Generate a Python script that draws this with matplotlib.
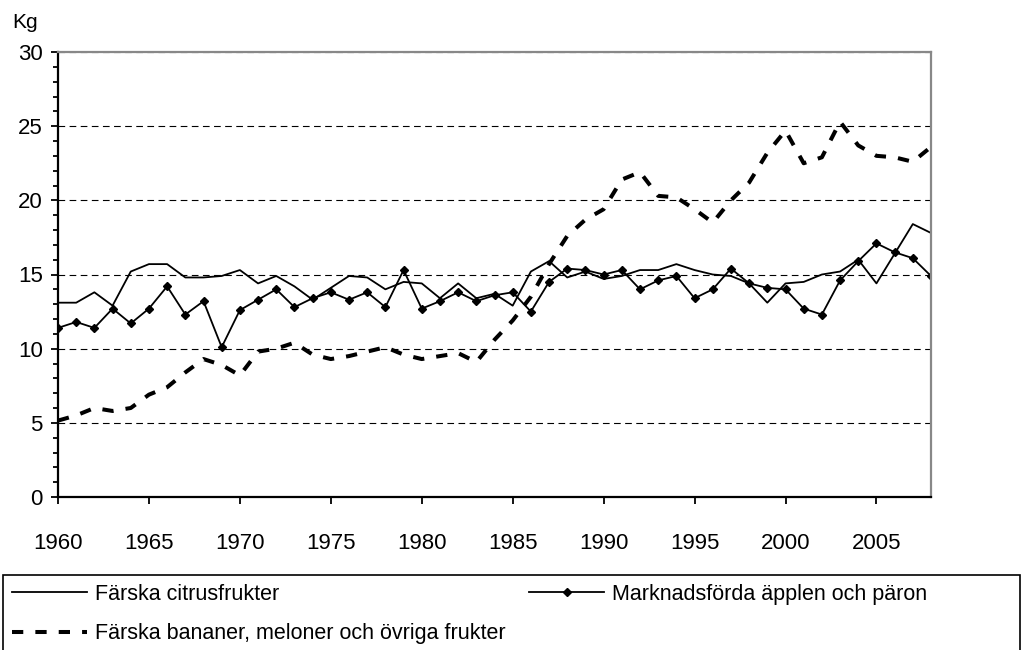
import numpy as np
import matplotlib.pyplot as plt
from matplotlib.ticker import MultipleLocator
from matplotlib.patches import Rectangle

plt.rcParams['font.family'] = ['Liberation Sans', 'DejaVu Sans']

years = list(range(1960, 2009))

citrus = [13.1, 13.1, 13.8, 12.9, 15.2, 15.7, 15.7, 14.8, 14.8, 14.9,
          15.3, 14.4, 14.9, 14.2, 13.3, 14.1, 14.9, 14.8, 14.0, 14.5,
          14.4, 13.4, 14.4, 13.4, 13.7, 12.9, 15.2, 15.9, 14.8, 15.2,
          14.7, 14.9, 15.3, 15.3, 15.7, 15.3, 15.0, 14.9, 14.4, 13.1,
          14.4, 14.5, 15.0, 15.2, 16.0, 14.4, 16.4, 18.4, 17.8]

apples = [11.4, 11.8, 11.4, 12.7, 11.7, 12.7, 14.2, 12.3, 13.2, 10.1,
          12.6, 13.3, 14.0, 12.8, 13.4, 13.8, 13.3, 13.8, 12.8, 15.3,
          12.7, 13.2, 13.8, 13.2, 13.6, 13.8, 12.5, 14.5, 15.4, 15.3,
          15.0, 15.3, 14.0, 14.6, 14.9, 13.4, 14.0, 15.4, 14.4, 14.1,
          14.0, 12.7, 12.3, 14.6, 15.9, 17.1, 16.5, 16.1, 14.9]

bananas = [5.15, 5.5, 6.0, 5.8, 6.0, 6.9, 7.4, 8.4, 9.3, 8.9,
           8.2, 9.8, 10.0, 10.4, 9.6, 9.3, 9.5, 9.8, 10.1, 9.6,
           9.3, 9.5, 9.7, 9.1, 10.6, 11.9, 13.5, 15.7, 17.6, 18.7,
           19.4, 21.4, 21.9, 20.3, 20.2, 19.4, 18.5, 20.0, 21.2, 23.2,
           24.7, 22.5, 22.9, 25.3, 23.7, 23.0, 22.9, 22.6, 23.6]

labels = ['Färska citrusfrukter',
          'Marknadsförda äpplen och päron',
          'Färska bananer, meloner och övriga frukter']

W, H = 1024, 650
fig = plt.figure(figsize=(W / 100, H / 100), dpi=100)
ax = fig.add_axes([58 / W, 1 - 497 / H, 873 / W, 445 / H])

l1, = ax.plot(years, citrus, color='black', lw=1.3)
l2, = ax.plot(years, apples, color='black', lw=1.3, marker='D', markersize=4.5)
l3, = ax.plot(years, bananas, color='black', lw=2.9, dashes=(2.8, 3.0))

ax.set_xlim(1960, 2008)
ax.set_ylim(0, 30)
ax.xaxis.set_major_locator(MultipleLocator(5))
ax.yaxis.set_major_locator(MultipleLocator(5))
ax.yaxis.set_minor_locator(MultipleLocator(1))
ax.tick_params(axis='both', direction='out', labelsize=16, width=1.3, length=5)
ax.tick_params(axis='x', pad=21)
ax.tick_params(axis='y', pad=6)
ax.tick_params(axis='y', which='minor', direction='out', width=1.3, length=3.5)
ax.tick_params(axis='x', which='minor', bottom=False)

ax.grid(axis='y', which='major', color='black', lw=0.8, linestyle=(0, (6, 4)))
ax.set_axisbelow(True)

for s in ['left', 'bottom']:
    ax.spines[s].set_linewidth(1.6)
for s in ['top', 'right']:
    ax.spines[s].set_color('#888888')
    ax.spines[s].set_linewidth(1.6)

fig.text(12 / W, 1 - 22 / H, 'Kg', fontsize=15, va='center', ha='left')

# legend box
fig.patches.append(Rectangle((3 / W, -0.05), 1017 / W, 1.05 - 575 / H,
                             transform=fig.transFigure, fill=False,
                             edgecolor='black', lw=1.2))

leg_kw = dict(loc='upper left', fontsize=15.5, handlelength=3.5, frameon=False,
              borderaxespad=0, borderpad=0, handletextpad=0.35, labelspacing=0.85)
leg1 = fig.legend([l1, l3], [labels[0], labels[2]],
                  bbox_to_anchor=(12 / W, 1 - 584 / H), **leg_kw)
leg2 = fig.legend([l2], [labels[1]],
                  bbox_to_anchor=(529 / W, 1 - 584 / H), **leg_kw)

fig.savefig('out.png', dpi=100)
